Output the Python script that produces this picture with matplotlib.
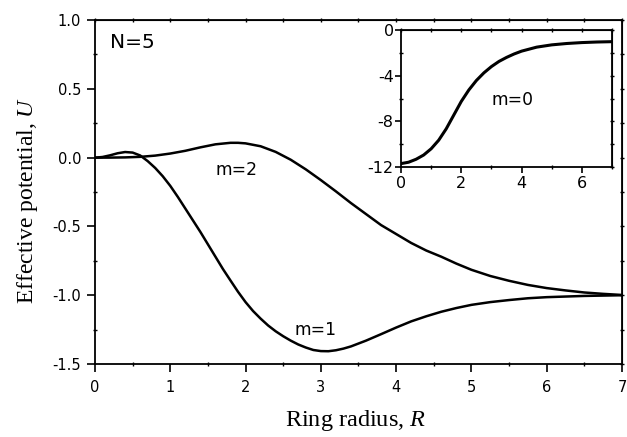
import numpy as np
import matplotlib
matplotlib.use("Agg")
import matplotlib.pyplot as plt
from matplotlib.ticker import MultipleLocator

# Data
r_m1 = [0, 0.1, 0.2, 0.3, 0.4, 0.5, 0.6, 0.7, 0.8, 0.9, 1.0, 1.1, 1.2, 1.3, 1.4,
        1.5, 1.6, 1.7, 1.8, 1.9, 2.0, 2.1, 2.2, 2.3, 2.4, 2.5, 2.6, 2.7, 2.8,
        2.9, 3.0, 3.1, 3.2, 3.3, 3.4, 3.6, 3.8, 4.0, 4.2, 4.4, 4.6, 4.8, 5.0,
        5.25, 5.5, 5.75, 6.0, 6.5, 7.0]
u_m1 = [0, 0.005, 0.017, 0.032, 0.041, 0.037, 0.016, -0.025, -0.075, -0.135,
        -0.205, -0.285, -0.37, -0.455, -0.54, -0.63, -0.72, -0.81, -0.893,
        -0.975, -1.05, -1.115, -1.17, -1.22, -1.262, -1.298, -1.33, -1.358,
        -1.38, -1.398, -1.406, -1.407, -1.40, -1.388, -1.372, -1.33, -1.283,
        -1.235, -1.19, -1.153, -1.12, -1.093, -1.07, -1.05, -1.035, -1.022,
        -1.014, -1.005, -1.0]

r_m2 = [0, 0.2, 0.4, 0.6, 0.8, 1.0, 1.2, 1.4, 1.6, 1.8, 1.9, 2.0, 2.2, 2.4, 2.6,
        2.8, 3.0, 3.2, 3.4, 3.6, 3.8, 4.0, 4.2, 4.4, 4.6, 4.8, 5.0, 5.25, 5.5,
        5.75, 6.0, 6.25, 6.5, 6.75, 7.0]
u_m2 = [0, 0.0005, 0.002, 0.006, 0.015, 0.03, 0.05, 0.075, 0.097, 0.108, 0.108,
        0.104, 0.083, 0.042, -0.015, -0.085, -0.163, -0.245, -0.33, -0.41,
        -0.49, -0.555, -0.62, -0.675, -0.72, -0.77, -0.815, -0.86, -0.895,
        -0.925, -0.948, -0.965, -0.98, -0.99, -0.998]

r_m0 = [0, 0.25, 0.5, 0.75, 1.0, 1.25, 1.5, 1.75, 2.0, 2.25, 2.5, 2.75, 3.0,
        3.25, 3.5, 3.75, 4.0, 4.5, 5.0, 5.5, 6.0, 6.5, 7.0]
u_m0 = [-11.7, -11.58, -11.32, -10.95, -10.4, -9.65, -8.65, -7.45, -6.25, -5.25,
        -4.42, -3.75, -3.2, -2.75, -2.4, -2.1, -1.85, -1.5, -1.3, -1.18, -1.1,
        -1.05, -1.02]

main_xticks = [0, 1, 2, 3, 4, 5, 6, 7]
main_yticks = [-1.5, -1.0, -0.5, 0.0, 0.5, 1.0]
inset_xticks = [0, 2, 4, 6]
inset_yticks = [-12, -8, -4, 0]

plt.rcParams['font.family'] = ['DejaVu Sans']
plt.rcParams['axes.unicode_minus'] = False
plt.rcParams['mathtext.fontset'] = 'custom'
plt.rcParams['mathtext.it'] = 'Liberation Serif:italic'
plt.rcParams['mathtext.rm'] = 'Liberation Serif'

fig = plt.figure(figsize=(6.27, 4.37), dpi=100)
ax = fig.add_axes([0.1515, 0.167, 0.8405, 0.787])

ax.plot(r_m1, u_m1, color='black', lw=1.8, solid_joinstyle='round')
ax.plot(r_m2, u_m2, color='black', lw=1.8, solid_joinstyle='round')
ax.set_xlim(0, 7)
ax.set_ylim(-1.5, 1.0)
ax.set_xticks(main_xticks)
ax.set_yticks(main_yticks)
ax.set_yticklabels([f"{v:.1f}" for v in main_yticks])
ax.xaxis.set_minor_locator(MultipleLocator(0.5))
ax.yaxis.set_minor_locator(MultipleLocator(0.25))
ax.tick_params(which='major', direction='out', length=5.5, width=1.2, labelsize=10.5,
               top=False, right=False)
ax.tick_params(axis='x', which='major', pad=6)
ax.tick_params(axis='y', which='major', pad=4.5)
ax.tick_params(which='minor', direction='inout', length=3, width=1.0,
               top=False, right=False)
for s in ax.spines.values():
    s.set_linewidth(1.3)

# small ticks on top and right
ax_t = ax.secondary_xaxis('top')
ax_t.set_xticks(np.arange(0, 7.01, 0.5))
ax_t.tick_params(direction='inout', length=3, width=1.0, labeltop=False)
ax_r = ax.secondary_yaxis('right')
ax_r.set_yticks(np.arange(-1.5, 1.01, 0.25))
ax_r.tick_params(direction='inout', length=3, width=1.0, labelright=False)

ax.set_xlabel("Ring radius, $R$", family='Liberation Serif', fontsize=17.5, va='center')
ax.set_ylabel("Effective potential, $U$", family='Liberation Serif', fontsize=17,
              va='center')
ax.xaxis.set_label_coords(0.494, -0.163)
ax.yaxis.set_label_coords(-0.128, 0.477)

ax.text(0.2, 0.84, "N=5", fontsize=14.5, ha='left', va='center')
ax.text(1.88, -0.09, "m=2", fontsize=12.3, ha='center', va='center')
ax.text(2.93, -1.255, "m=1", fontsize=12.3, ha='center', va='center')

# inset
ins = fig.add_axes([0.6396, 0.6178, 0.3365, 0.3135])
ins.plot(r_m0, u_m0, color='black', lw=2.2, solid_joinstyle='round')
ins.set_xlim(0, 7)
ins.set_ylim(-12, 0)
ins.set_xticks(inset_xticks)
ins.set_yticks(inset_yticks)
ins.xaxis.set_minor_locator(MultipleLocator(1))
ins.yaxis.set_minor_locator(MultipleLocator(2))
ins.tick_params(which='major', direction='out', length=4.3, width=1.2, labelsize=11.5)
ins.tick_params(axis='y', which='major', pad=1)
ins.tick_params(axis='x', which='major', pad=2.5)
ins.tick_params(which='minor', direction='inout', length=2.5, width=1.0)
ins_t = ins.secondary_xaxis('top')
ins_t.set_xticks(np.arange(0, 7.01, 1))
ins_t.tick_params(direction='inout', length=2.5, width=1.0, labeltop=False)
ins_r = ins.secondary_yaxis('right')
ins_r.set_yticks(np.arange(-12, 0.01, 2))
ins_r.tick_params(direction='inout', length=2.5, width=1.0, labelright=False)
for s in ins.spines.values():
    s.set_linewidth(1.3)
ins.text(3.7, -6.1, "m=0", fontsize=12.3, ha='center', va='center')

fig.savefig("out.png", dpi=100)
